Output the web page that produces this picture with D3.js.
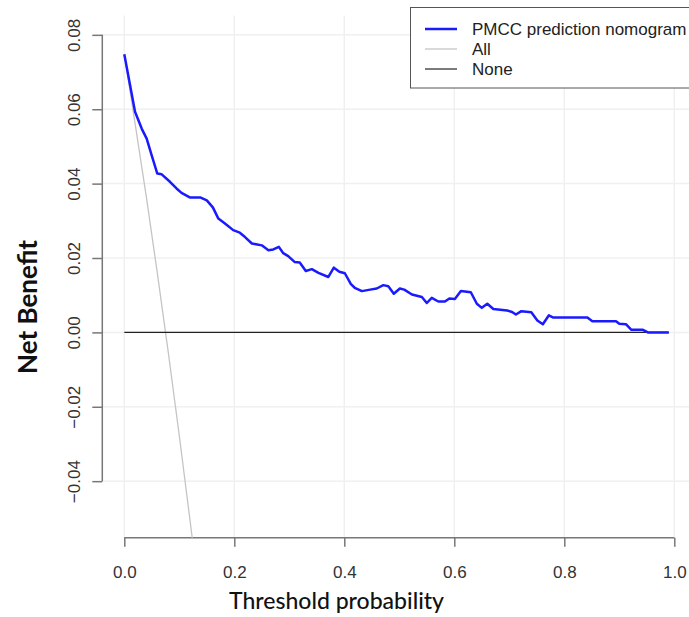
<!DOCTYPE html>
<html>
<head>
<meta charset="utf-8">
<script src="https://cdn.jsdelivr.net/npm/d3@7"></script>
<style>
  body { margin: 0; background: #fff; overflow: hidden; }
  svg { display: block; }
  .axis text { font-family: "Liberation Sans", Arial, sans-serif; font-size: 17px; fill: #333; }
  .axis line { stroke: #777; stroke-width: 1.5; }
  .grid line { stroke: #f0f0f0; stroke-width: 1.5; }
  .title { font-family: Lato, "Open Sans", sans-serif; fill: #111; }
  .legend text { font-family: "Liberation Sans", Arial, sans-serif; font-size: 17px; fill: #222; }
</style>
</head>
<body>
<div class="chart"></div>
<script>
// Decision curve values
const thresholdPMCC = [0, 0.0195, 0.0316, 0.0407, 0.0498, 0.06, 0.068, 0.083, 0.095, 0.104, 0.119, 0.138,
  0.15, 0.161, 0.171, 0.183, 0.198, 0.21, 0.219, 0.232, 0.25, 0.262, 0.271, 0.281, 0.289, 0.298, 0.31,
  0.319, 0.33, 0.341, 0.353, 0.371, 0.381, 0.391, 0.401, 0.412, 0.419, 0.432, 0.447, 0.459, 0.471, 0.48,
  0.49, 0.501, 0.509, 0.523, 0.541, 0.55, 0.559, 0.571, 0.583, 0.591, 0.601, 0.612, 0.63, 0.641, 0.65,
  0.66, 0.671, 0.696, 0.705, 0.712, 0.722, 0.74, 0.751, 0.761, 0.772, 0.78, 0.842, 0.851, 0.894, 0.9,
  0.912, 0.922, 0.943, 0.952, 0.99]
const netBenefitPMCC = [0.0748, 0.0593, 0.0548, 0.0521, 0.0476, 0.0427, 0.0425, 0.0405, 0.0387, 0.0375, 0.0363, 0.0363,
  0.0355, 0.0336, 0.0306, 0.0293, 0.0275, 0.0268, 0.0257, 0.0239, 0.0234, 0.0221, 0.0223, 0.023, 0.0213, 0.0205, 0.0189,
  0.0188, 0.0165, 0.017, 0.016, 0.0149, 0.0174, 0.0163, 0.0159, 0.013, 0.012, 0.0111, 0.0115, 0.0118, 0.0127, 0.0124,
  0.0104, 0.0118, 0.0115, 0.0102, 0.0095, 0.0079, 0.0093, 0.0083, 0.0083, 0.0091, 0.009, 0.0111, 0.0108, 0.0077, 0.0066,
  0.0077, 0.0063, 0.0059, 0.0055, 0.0048, 0.0057, 0.0054, 0.0032, 0.0022, 0.0046, 0.004, 0.004, 0.003, 0.003, 0.0023,
  0.0022, 0.0007, 0.0007, 0, 0]

const thresholdAll = [0, 0.02, 0.04, 0.06, 0.08, 0.10, 0.12, 0.14]
const netBenefitAll = [0.0748, 0.0558, 0.0365, 0.016, -0.0054, -0.0278, -0.0511, -0.0754]

const thresholdNone = [0, 0.99]
const netBenefitNone = [0, 0]

const xTicks = [0, 0.2, 0.4, 0.6, 0.8, 1.0]
const yTicks = [-0.04, -0.02, 0, 0.02, 0.04, 0.06, 0.08]

const legendLabels = ['PMCC prediction nomogram', 'All', 'None']
const legendColors = ['#1a1aff', '#c4c4c4', '#222']
const legendWidths = [2.5, 1.3, 1.2]

const width = 689
const height = 617
const margins = { top: 15.5, right: -7.3, bottom: 79.3, left: 102.3 }
const innerWidth = width - margins.left - margins.right
const innerHeight = height - margins.top - margins.bottom

const x = d3.scaleLinear().domain([-0.04, 1.04]).range([0, innerWidth])
const y = d3.scaleLinear().domain([-0.0552, 0.0852]).range([innerHeight, 0])

const svg = d3.select('.chart')
  .append('svg')
  .attr('width', width)
  .attr('height', height)

const g = svg.append('g')
  .attr('transform', `translate(${margins.left}, ${margins.top})`)

g.append('clipPath')
  .attr('id', 'plot-clip')
  .append('rect')
  .attr('width', innerWidth)
  .attr('height', innerHeight)

// grid
g.append('g')
  .attr('class', 'grid')
  .selectAll('line.v')
  .data(xTicks)
  .join('line')
  .attr('x1', d => x(d)).attr('x2', d => x(d))
  .attr('y1', 0).attr('y2', innerHeight)

g.append('g')
  .attr('class', 'grid')
  .selectAll('line.h')
  .data(yTicks)
  .join('line')
  .attr('x1', 0).attr('x2', innerWidth)
  .attr('y1', d => y(d)).attr('y2', d => y(d))

// axes (R style: line spans first to last tick)
const xAxis = g.append('g')
  .attr('class', 'axis axis__x')
  .attr('transform', `translate(0, ${innerHeight})`)
  .call(d3.axisBottom(x).tickValues(xTicks).tickSize(9).tickPadding(19).tickFormat(d3.format('.1f')))
xAxis.select('.domain').remove()
xAxis.append('line')
  .attr('x1', x(xTicks[0])).attr('x2', x(xTicks[xTicks.length - 1]))

const yAxis = g.append('g')
  .attr('class', 'axis axis__y')
  .call(d3.axisLeft(y).tickValues(yTicks).tickSize(10).tickFormat(d3.format('.2f')))
yAxis.select('.domain').remove()
yAxis.append('line')
  .attr('y1', y(yTicks[0])).attr('y2', y(yTicks[yTicks.length - 1]))
yAxis.selectAll('.tick text')
  .attr('transform', 'rotate(-90)')
  .attr('x', 0)
  .attr('y', -22)
  .attr('dy', 0)
  .attr('text-anchor', 'middle')

// lines
const line = d3.line().x(d => x(d[0])).y(d => y(d[1]))
const plot = g.append('g').attr('clip-path', 'url(#plot-clip)')

plot.append('path')
  .datum(d3.zip(thresholdAll, netBenefitAll))
  .attr('fill', 'none')
  .attr('stroke', legendColors[1])
  .attr('stroke-width', legendWidths[1])
  .attr('d', line)

plot.append('path')
  .datum(d3.zip(thresholdNone, netBenefitNone))
  .attr('fill', 'none')
  .attr('stroke', legendColors[2])
  .attr('stroke-width', legendWidths[2])
  .attr('d', line)

plot.append('path')
  .datum(d3.zip(thresholdPMCC, netBenefitPMCC))
  .attr('fill', 'none')
  .attr('stroke', legendColors[0])
  .attr('stroke-width', legendWidths[0])
  .attr('stroke-linejoin', 'round')
  .attr('d', line)

// titles
svg.append('text')
  .attr('class', 'title')
  .attr('x', 336.5)
  .attr('y', 609)
  .attr('text-anchor', 'middle')
  .style('font-size', '23px')
  .style('font-weight', 500)
  .text('Threshold probability')

svg.append('text')
  .attr('class', 'title')
  .attr('transform', 'translate(37, 307) rotate(-90)')
  .attr('text-anchor', 'middle')
  .style('font-size', '26px')
  .style('font-weight', 'bold')
  .text('Net Benefit')

// legend
const legend = svg.append('g').attr('class', 'legend')
legend.append('rect')
  .attr('x', 410.5).attr('y', 7.5)
  .attr('width', 300).attr('height', 80.5)
  .attr('fill', '#fff')
  .attr('stroke', '#555')
  .attr('stroke-width', 1)

const rows = legend.selectAll('g.row')
  .data(legendLabels)
  .join('g')
  .attr('transform', (d, i) => `translate(0, ${29 + i * 20})`)

rows.append('line')
  .attr('x1', 425).attr('x2', 457)
  .attr('stroke', (d, i) => legendColors[i])
  .attr('stroke-width', (d, i) => legendWidths[i])

rows.append('text')
  .attr('x', 472)
  .attr('dy', '0.36em')
  .text(d => d)
</script>
</body>
</html>
